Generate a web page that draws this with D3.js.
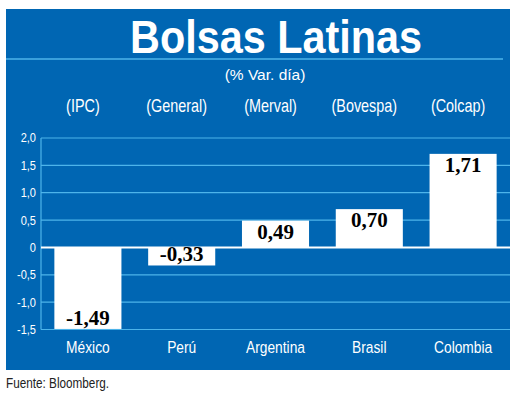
<!DOCTYPE html>
<meta charset="utf-8" />
<style>
  body { margin: 0; background: #fff; overflow: hidden; }
  svg { font-family: "Liberation Sans", Arial, sans-serif; }
</style>
<body>
<svg id="chart"></svg>
<script src="https://cdnjs.cloudflare.com/ajax/libs/d3/7.8.5/d3.min.js"></script>
<script>
  var countries = ["México", "Perú", "Argentina", "Brasil", "Colombia"];
  var indices = ["(IPC)", "(General)", "(Merval)", "(Bovespa)", "(Colcap)"];
  var values = [-1.49, -0.33, 0.49, 0.70, 1.71];
  var yTicks = [2.0, 1.5, 1.0, 0.5, 0, -0.5, -1.0, -1.5];

  var width = 520, height = 400;
  var blue = "#0066b3", grid = "#4db4ea";

  var svg = d3.select("#chart").attr("width", width).attr("height", height);

  // narrow text: squeeze horizontally around its anchor point
  function narrow(sel, k) {
    sel.attr("transform", function() {
      var t = d3.select(this), px = +t.attr("x"), py = +t.attr("y");
      return "translate(" + px + "," + py + ") scale(" + k + ",1) translate(" + (-px) + "," + (-py) + ")";
    });
  }

  // panel
  svg.append("rect").attr("x", 6).attr("y", 9).attr("width", 504).attr("height", 361)
    .style("fill", blue);
  svg.append("line").attr("x1", 6).attr("x2", 503).attr("y1", 59).attr("y2", 59)
    .style("stroke", grid).style("stroke-width", 1.5);

  svg.append("text").attr("x", 276).attr("y", 53).attr("text-anchor", "middle")
    .attr("textLength", 292).attr("lengthAdjust", "spacingAndGlyphs")
    .style("font-size", "46px").style("font-weight", "bold").style("fill", "#fff")
    .text("Bolsas Latinas");
  svg.append("text").attr("x", 265).attr("y", 80).attr("text-anchor", "middle")
    .style("font-size", "15.5px").style("fill", "#fff")
    .text("(% Var. día)");

  var x = d3.scaleBand().domain(countries).range([41, 510])
    .paddingInner(0.285).paddingOuter(0.1425);
  var y = d3.scaleLinear().domain([-1.5, 2.0]).range([329.5, 138]);

  // gridlines
  svg.append("g").selectAll("line").data(yTicks.filter(function(d){ return d !== 0; }))
    .enter().append("line")
    .attr("x1", 41).attr("x2", 510)
    .attr("y1", function(d){ return y(d); }).attr("y2", function(d){ return y(d); })
    .style("stroke", grid).style("stroke-width", 1.2);
  svg.append("line").attr("x1", 41).attr("x2", 41).attr("y1", y(2)).attr("y2", y(-1.5))
    .style("stroke", grid).style("stroke-width", 1.2);

  // y labels
  svg.append("g").selectAll("text").data(yTicks).enter().append("text")
    .attr("x", 36).attr("y", function(d){ return y(d) + 4.5; })
    .attr("text-anchor", "end").style("font-size", "13px").style("fill", "#fff")
    .text(function(d){ return d === 0 ? "0" : d3.format(".1f")(d).replace(".", ",").replace("−", "-"); })
    .call(narrow, 0.85);

  // bars
  svg.append("g").selectAll("rect").data(values).enter().append("rect")
    .attr("x", function(d, i){ return x(countries[i]); })
    .attr("width", x.bandwidth())
    .attr("y", function(d){ return y(Math.max(0, d)); })
    .attr("height", function(d){ return Math.abs(y(d) - y(0)); })
    .style("fill", "#fff");

  svg.append("line").attr("x1", 41).attr("x2", 510).attr("y1", y(0)).attr("y2", y(0))
    .style("stroke", "#fff").style("stroke-width", 2);

  // value labels
  svg.append("g").selectAll("text").data(values).enter().append("text")
    .attr("x", function(d, i){ return x(countries[i]) + x.bandwidth() / 2; })
    .attr("y", function(d){ return d > 0 ? y(d) + 18 : y(d) - 4; })
    .attr("text-anchor", "middle")
    .style("font-family", "'Liberation Serif', serif").style("font-weight", "bold")
    .style("font-size", "21px").style("fill", "#000")
    .text(function(d){ return d3.format(".2f")(d).replace(".", ",").replace("−", "-"); });

  // index labels
  svg.append("g").selectAll("text").data(indices).enter().append("text")
    .attr("x", function(d, i){ return x(countries[i]) + x.bandwidth() / 2 - 5; })
    .attr("y", 112).attr("text-anchor", "middle")
    .style("font-size", "18px").style("fill", "#fff")
    .text(function(d){ return d; })
    .call(narrow, 0.8);

  // country labels
  svg.append("g").selectAll("text").data(countries).enter().append("text")
    .attr("x", function(d){ return x(d) + x.bandwidth() / 2; })
    .attr("y", 353).attr("text-anchor", "middle")
    .style("font-size", "17px").style("fill", "#fff")
    .text(function(d){ return d; })
    .call(narrow, 0.81);

  svg.append("text").attr("x", 6).attr("y", 388)
    .style("font-size", "14px").style("fill", "#222")
    .text("Fuente: Bloomberg.")
    .call(narrow, 0.84);
</script>
</body>
